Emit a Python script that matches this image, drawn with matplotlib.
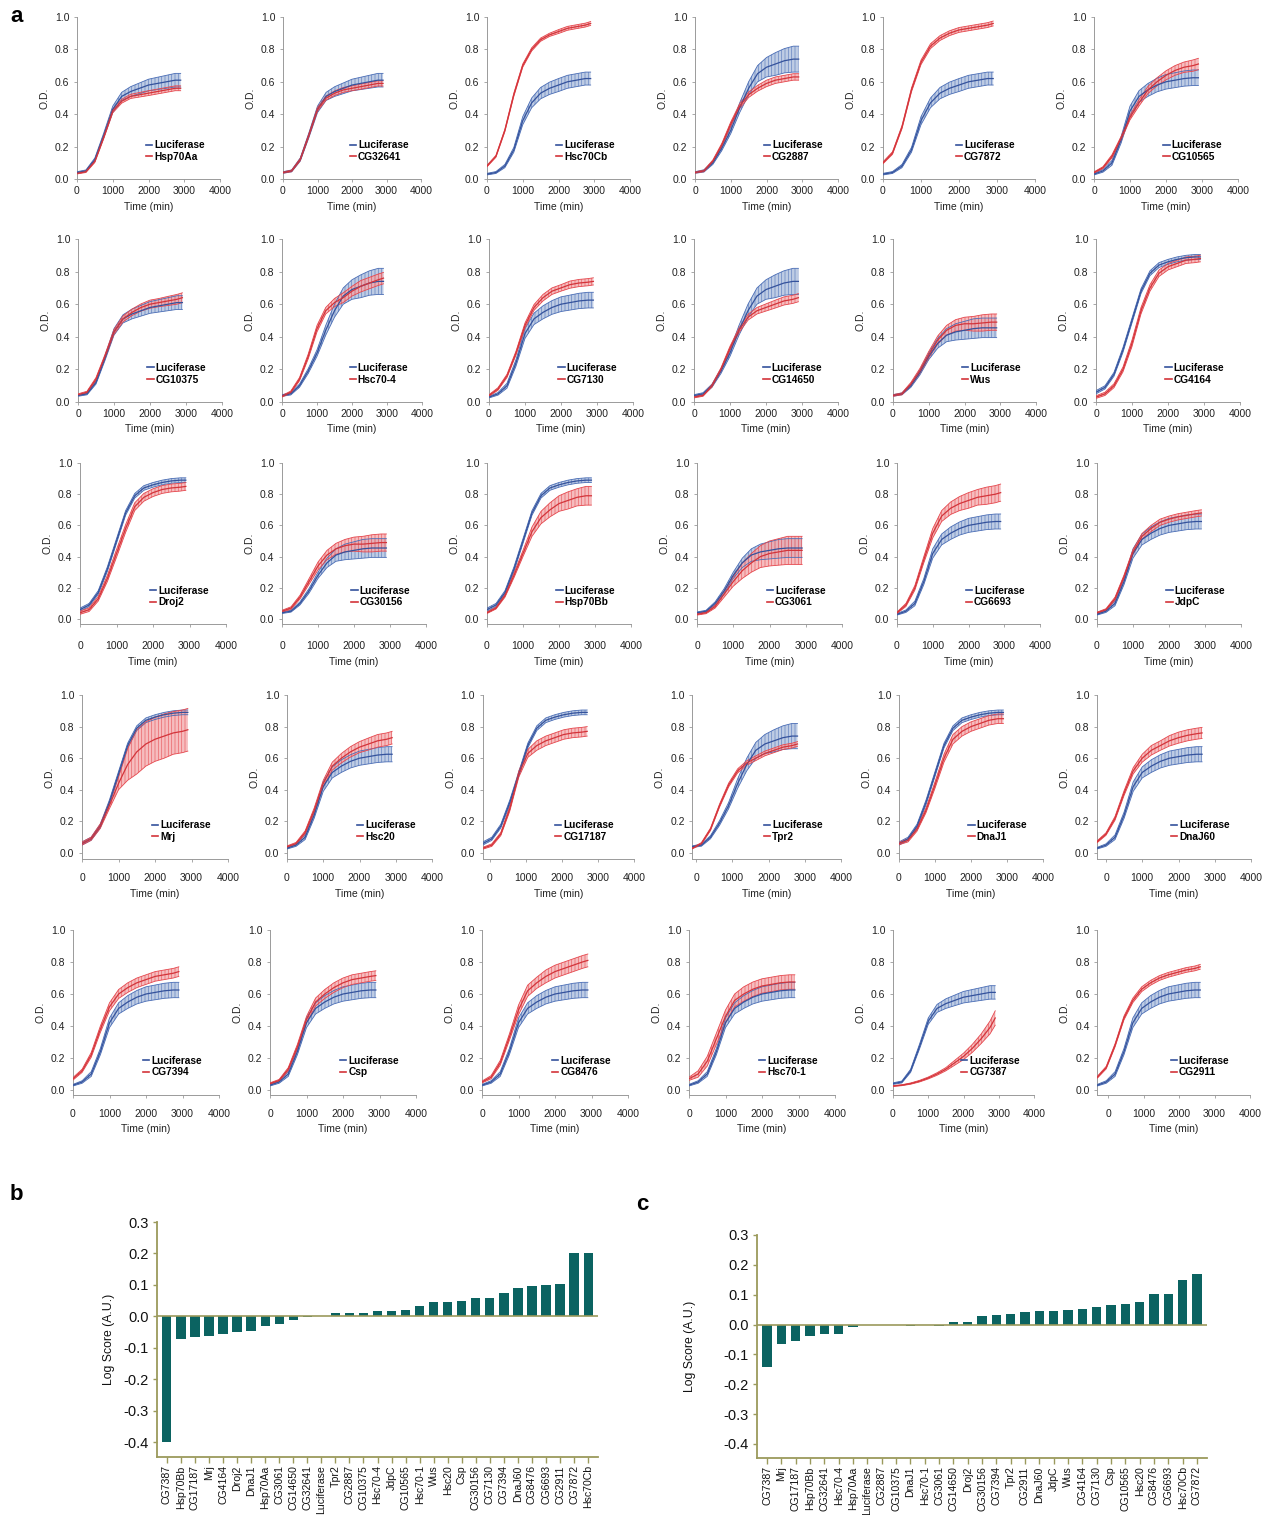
import matplotlib
matplotlib.use("Agg")
import numpy as np
import matplotlib.pyplot as plt

plt.rcParams['font.family'] = ['Liberation Sans', 'DejaVu Sans']
plt.rcParams['hatch.linewidth'] = 0.5

W, H = 1277, 1515

# sample times (min)
T = [0, 250, 500, 750, 1000, 1250, 1500, 1750, 2000, 2250, 2500, 2750, 2900]

# luciferase controls (one per plate)
luc_a = [0.04, 0.05, 0.12, 0.27, 0.43, 0.51, 0.54, 0.56, 0.58, 0.59, 0.60, 0.61, 0.61]
luc_a_sd = [0.005, 0.006, 0.01, 0.015, 0.02, 0.025, 0.03, 0.033, 0.036, 0.038, 0.04, 0.042, 0.042]
luc_a2 = [0.03, 0.05, 0.10, 0.24, 0.42, 0.51, 0.55, 0.58, 0.60, 0.61, 0.62, 0.625, 0.625]
luc_a2_sd = [0.005, 0.008, 0.015, 0.02, 0.03, 0.035, 0.04, 0.042, 0.045, 0.046, 0.047, 0.048, 0.048]
luc_e = [0.03, 0.04, 0.08, 0.18, 0.36, 0.47, 0.53, 0.56, 0.58, 0.60, 0.61, 0.62, 0.62]
luc_e_sd = [0.005, 0.006, 0.01, 0.015, 0.025, 0.03, 0.035, 0.038, 0.04, 0.04, 0.04, 0.04, 0.04]
luc_b = [0.04, 0.05, 0.10, 0.19, 0.30, 0.44, 0.56, 0.65, 0.69, 0.71, 0.73, 0.74, 0.74]
luc_b_sd = [0.005, 0.007, 0.01, 0.015, 0.02, 0.03, 0.04, 0.05, 0.06, 0.07, 0.075, 0.08, 0.08]
luc_c = [0.06, 0.09, 0.17, 0.32, 0.50, 0.68, 0.79, 0.84, 0.86, 0.875, 0.885, 0.89, 0.89]
luc_c_sd = [0.01, 0.01, 0.012, 0.015, 0.015, 0.015, 0.015, 0.015, 0.015, 0.015, 0.015, 0.015, 0.015]
luc_d = [0.04, 0.05, 0.10, 0.18, 0.28, 0.36, 0.41, 0.43, 0.44, 0.45, 0.455, 0.455, 0.455]
luc_d_sd = [0.005, 0.006, 0.01, 0.015, 0.02, 0.03, 0.04, 0.05, 0.055, 0.06, 0.06, 0.06, 0.06]

# chaperone curves
hsp70aa = [0.035, 0.045, 0.11, 0.26, 0.42, 0.48, 0.51, 0.52, 0.53, 0.54, 0.55, 0.56, 0.56]
hsp70aa_sd = [0.004, 0.005, 0.008, 0.01, 0.012, 0.012, 0.013, 0.014, 0.015, 0.015, 0.015, 0.015, 0.015]
cg32641 = [0.04, 0.05, 0.12, 0.27, 0.43, 0.50, 0.53, 0.55, 0.56, 0.57, 0.58, 0.59, 0.59]
cg32641_sd = [0.004, 0.005, 0.008, 0.01, 0.012, 0.013, 0.014, 0.015, 0.015, 0.016, 0.016, 0.016, 0.016]
hsc70cb = [0.08, 0.14, 0.30, 0.52, 0.70, 0.80, 0.86, 0.89, 0.91, 0.93, 0.94, 0.95, 0.96]
hsc70cb_sd = [0.005, 0.006, 0.008, 0.01, 0.01, 0.01, 0.01, 0.01, 0.012, 0.012, 0.012, 0.012, 0.012]
cg2887 = [0.04, 0.05, 0.11, 0.21, 0.34, 0.45, 0.52, 0.56, 0.59, 0.61, 0.62, 0.63, 0.63]
cg2887_sd = [0.004, 0.005, 0.008, 0.01, 0.012, 0.015, 0.017, 0.018, 0.02, 0.02, 0.02, 0.02, 0.02]
cg7872 = [0.10, 0.16, 0.32, 0.55, 0.72, 0.82, 0.87, 0.90, 0.92, 0.93, 0.94, 0.95, 0.96]
cg7872_sd = [0.006, 0.008, 0.01, 0.012, 0.014, 0.015, 0.015, 0.015, 0.015, 0.015, 0.015, 0.015, 0.015]
cg10565 = [0.04, 0.07, 0.14, 0.25, 0.38, 0.47, 0.55, 0.60, 0.64, 0.67, 0.69, 0.70, 0.71]
cg10565_sd = [0.004, 0.006, 0.01, 0.012, 0.015, 0.02, 0.022, 0.025, 0.028, 0.03, 0.032, 0.035, 0.035]
cg10375 = [0.045, 0.06, 0.14, 0.28, 0.43, 0.51, 0.55, 0.58, 0.60, 0.61, 0.62, 0.63, 0.64]
cg10375_sd = [0.005, 0.006, 0.01, 0.012, 0.015, 0.018, 0.02, 0.022, 0.025, 0.025, 0.028, 0.03, 0.03]
hsc70_4 = [0.035, 0.06, 0.14, 0.28, 0.45, 0.56, 0.61, 0.64, 0.68, 0.71, 0.73, 0.75, 0.76]
hsc70_4_sd = [0.005, 0.007, 0.01, 0.015, 0.02, 0.02, 0.025, 0.03, 0.03, 0.035, 0.035, 0.035, 0.035]
cg7130 = [0.04, 0.08, 0.16, 0.30, 0.47, 0.58, 0.64, 0.68, 0.70, 0.72, 0.73, 0.735, 0.74]
cg7130_sd = [0.005, 0.008, 0.01, 0.012, 0.015, 0.018, 0.02, 0.02, 0.02, 0.022, 0.022, 0.022, 0.022]
cg14650 = [0.03, 0.04, 0.10, 0.20, 0.33, 0.44, 0.52, 0.56, 0.58, 0.60, 0.62, 0.63, 0.64]
cg14650_sd = [0.005, 0.005, 0.008, 0.01, 0.012, 0.015, 0.018, 0.02, 0.022, 0.024, 0.025, 0.025, 0.025]
wus = [0.04, 0.05, 0.11, 0.19, 0.29, 0.38, 0.44, 0.47, 0.48, 0.48, 0.485, 0.49, 0.49]
wus_sd = [0.005, 0.006, 0.01, 0.015, 0.02, 0.025, 0.03, 0.035, 0.04, 0.045, 0.05, 0.05, 0.05]
cg4164 = [0.03, 0.05, 0.10, 0.20, 0.36, 0.56, 0.70, 0.79, 0.83, 0.85, 0.87, 0.875, 0.88]
cg4164_sd = [0.008, 0.01, 0.012, 0.015, 0.02, 0.02, 0.02, 0.02, 0.02, 0.02, 0.02, 0.02, 0.02]
droj2 = [0.04, 0.06, 0.13, 0.26, 0.42, 0.58, 0.72, 0.78, 0.81, 0.83, 0.84, 0.845, 0.85]
droj2_sd = [0.01, 0.012, 0.015, 0.02, 0.025, 0.025, 0.025, 0.025, 0.025, 0.025, 0.025, 0.025, 0.025]
cg30156 = [0.05, 0.07, 0.14, 0.24, 0.34, 0.41, 0.45, 0.47, 0.48, 0.48, 0.485, 0.49, 0.49]
cg30156_sd = [0.006, 0.008, 0.012, 0.018, 0.025, 0.03, 0.035, 0.04, 0.045, 0.05, 0.055, 0.055, 0.055]
hsp70bb = [0.04, 0.07, 0.15, 0.28, 0.42, 0.56, 0.65, 0.70, 0.74, 0.76, 0.78, 0.79, 0.79]
hsp70bb_sd = [0.005, 0.006, 0.01, 0.015, 0.02, 0.03, 0.04, 0.045, 0.05, 0.055, 0.055, 0.06, 0.06]
cg3061 = [0.03, 0.04, 0.08, 0.16, 0.24, 0.31, 0.36, 0.40, 0.42, 0.43, 0.44, 0.44, 0.44]
cg3061_sd = [0.005, 0.006, 0.01, 0.02, 0.03, 0.05, 0.06, 0.07, 0.08, 0.085, 0.09, 0.09, 0.09]
cg6693 = [0.04, 0.09, 0.20, 0.38, 0.55, 0.66, 0.71, 0.74, 0.76, 0.78, 0.79, 0.80, 0.81]
cg6693_sd = [0.005, 0.01, 0.015, 0.02, 0.03, 0.035, 0.04, 0.045, 0.05, 0.05, 0.055, 0.055, 0.055]
jdpc = [0.04, 0.06, 0.13, 0.27, 0.43, 0.53, 0.58, 0.62, 0.64, 0.655, 0.665, 0.675, 0.68]
jdpc_sd = [0.004, 0.006, 0.01, 0.012, 0.015, 0.018, 0.02, 0.02, 0.02, 0.02, 0.02, 0.02, 0.02]
mrj = [0.06, 0.09, 0.17, 0.30, 0.44, 0.56, 0.64, 0.69, 0.72, 0.74, 0.76, 0.77, 0.78]
mrj_sd = [0.01, 0.01, 0.015, 0.02, 0.04, 0.10, 0.14, 0.14, 0.14, 0.14, 0.135, 0.135, 0.135]
hsc20 = [0.04, 0.06, 0.13, 0.27, 0.44, 0.55, 0.60, 0.64, 0.67, 0.69, 0.71, 0.72, 0.73]
hsc20_sd = [0.005, 0.007, 0.01, 0.015, 0.02, 0.025, 0.03, 0.033, 0.035, 0.038, 0.04, 0.04, 0.04]
cg17187 = [0.03, 0.05, 0.12, 0.28, 0.50, 0.63, 0.68, 0.71, 0.73, 0.75, 0.76, 0.765, 0.77]
cg17187_sd = [0.006, 0.008, 0.01, 0.015, 0.02, 0.025, 0.03, 0.03, 0.03, 0.03, 0.03, 0.03, 0.03]
tpr2 = [0.03, 0.06, 0.15, 0.30, 0.43, 0.52, 0.57, 0.60, 0.63, 0.65, 0.67, 0.68, 0.69]
tpr2_sd = [0.004, 0.006, 0.008, 0.01, 0.012, 0.013, 0.014, 0.015, 0.015, 0.015, 0.015, 0.015, 0.015]
dnaj1 = [0.06, 0.08, 0.15, 0.27, 0.43, 0.60, 0.72, 0.77, 0.80, 0.82, 0.84, 0.85, 0.85]
dnaj1_sd = [0.008, 0.01, 0.012, 0.015, 0.02, 0.025, 0.03, 0.03, 0.03, 0.03, 0.03, 0.03, 0.03]
dnaj60 = [0.07, 0.12, 0.22, 0.38, 0.52, 0.60, 0.65, 0.68, 0.71, 0.73, 0.745, 0.755, 0.76]
dnaj60_sd = [0.006, 0.008, 0.012, 0.015, 0.02, 0.025, 0.03, 0.03, 0.033, 0.035, 0.035, 0.035, 0.035]
cg7394 = [0.07, 0.12, 0.22, 0.38, 0.52, 0.60, 0.64, 0.67, 0.69, 0.71, 0.72, 0.73, 0.74]
cg7394_sd = [0.008, 0.01, 0.015, 0.02, 0.025, 0.028, 0.03, 0.03, 0.03, 0.03, 0.03, 0.03, 0.03]
csp = [0.04, 0.06, 0.13, 0.27, 0.44, 0.55, 0.60, 0.64, 0.67, 0.69, 0.70, 0.71, 0.715]
csp_sd = [0.005, 0.006, 0.01, 0.015, 0.02, 0.025, 0.028, 0.03, 0.03, 0.03, 0.03, 0.03, 0.03]
cg8476 = [0.05, 0.08, 0.17, 0.33, 0.50, 0.62, 0.67, 0.71, 0.74, 0.76, 0.78, 0.80, 0.81]
cg8476_sd = [0.006, 0.01, 0.015, 0.02, 0.03, 0.035, 0.035, 0.04, 0.04, 0.04, 0.04, 0.04, 0.04]
hsc70_1 = [0.07, 0.10, 0.18, 0.32, 0.46, 0.56, 0.60, 0.63, 0.65, 0.66, 0.67, 0.675, 0.675]
hsc70_1_sd = [0.01, 0.02, 0.03, 0.035, 0.04, 0.04, 0.045, 0.045, 0.045, 0.045, 0.045, 0.045, 0.045]
cg7387 = [0.025, 0.03, 0.04, 0.055, 0.075, 0.10, 0.13, 0.17, 0.21, 0.26, 0.32, 0.39, 0.45]
cg7387_sd = [0.003, 0.003, 0.004, 0.005, 0.006, 0.008, 0.01, 0.015, 0.02, 0.025, 0.03, 0.04, 0.045]
cg2911 = [0.08, 0.14, 0.28, 0.45, 0.56, 0.63, 0.67, 0.70, 0.72, 0.735, 0.75, 0.76, 0.77]
cg2911_sd = [0.006, 0.008, 0.01, 0.012, 0.014, 0.015, 0.015, 0.015, 0.015, 0.015, 0.015, 0.015, 0.015]

# grid order (row by row)
panels = [
    ("Hsp70Aa", luc_a, luc_a_sd, hsp70aa, hsp70aa_sd),
    ("CG32641", luc_a, luc_a_sd, cg32641, cg32641_sd),
    ("Hsc70Cb", luc_e, luc_e_sd, hsc70cb, hsc70cb_sd),
    ("CG2887", luc_b, luc_b_sd, cg2887, cg2887_sd),
    ("CG7872", luc_e, luc_e_sd, cg7872, cg7872_sd),
    ("CG10565", luc_a2, luc_a2_sd, cg10565, cg10565_sd),
    ("CG10375", luc_a, luc_a_sd, cg10375, cg10375_sd),
    ("Hsc70-4", luc_b, luc_b_sd, hsc70_4, hsc70_4_sd),
    ("CG7130", luc_a2, luc_a2_sd, cg7130, cg7130_sd),
    ("CG14650", luc_b, luc_b_sd, cg14650, cg14650_sd),
    ("Wus", luc_d, luc_d_sd, wus, wus_sd),
    ("CG4164", luc_c, luc_c_sd, cg4164, cg4164_sd),
    ("Droj2", luc_c, luc_c_sd, droj2, droj2_sd),
    ("CG30156", luc_d, luc_d_sd, cg30156, cg30156_sd),
    ("Hsp70Bb", luc_c, luc_c_sd, hsp70bb, hsp70bb_sd),
    ("CG3061", luc_d, luc_d_sd, cg3061, cg3061_sd),
    ("CG6693", luc_a2, luc_a2_sd, cg6693, cg6693_sd),
    ("JdpC", luc_a2, luc_a2_sd, jdpc, jdpc_sd),
    ("Mrj", luc_c, luc_c_sd, mrj, mrj_sd),
    ("Hsc20", luc_a2, luc_a2_sd, hsc20, hsc20_sd),
    ("CG17187", luc_c, luc_c_sd, cg17187, cg17187_sd),
    ("Tpr2", luc_b, luc_b_sd, tpr2, tpr2_sd),
    ("DnaJ1", luc_c, luc_c_sd, dnaj1, dnaj1_sd),
    ("DnaJ60", luc_a2, luc_a2_sd, dnaj60, dnaj60_sd),
    ("CG7394", luc_a2, luc_a2_sd, cg7394, cg7394_sd),
    ("Csp", luc_a2, luc_a2_sd, csp, csp_sd),
    ("CG8476", luc_a2, luc_a2_sd, cg8476, cg8476_sd),
    ("Hsc70-1", luc_a2, luc_a2_sd, hsc70_1, hsc70_1_sd),
    ("CG7387", luc_a, luc_a_sd, cg7387, cg7387_sd),
    ("CG2911", luc_a2, luc_a2_sd, cg2911, cg2911_sd),
]
# time axis start per panel (some panels begin before 0)
x_start = [0] * 30
x_start[20] = -200
x_start[21] = -100
x_start[23] = -250
x_start[29] = -300

# bar charts
b_labels = ["CG7387", "Hsp70Bb", "CG17187", "Mrj", "CG4164", "Droj2", "DnaJ1", "Hsp70Aa",
            "CG3061", "CG14650", "CG32641", "Luciferase", "Tpr2", "CG2887", "CG10375",
            "Hsc70-4", "JdpC", "CG10565", "Hsc70-1", "Wus", "Hsc20", "Csp", "CG30156",
            "CG7130", "CG7394", "DnaJ60", "CG8476", "CG6693", "CG2911", "CG7872", "Hsc70Cb"]
b_values = [-0.398, -0.071, -0.066, -0.063, -0.056, -0.050, -0.045, -0.030, -0.025, -0.012,
            -0.001, 0.0, 0.012, 0.010, 0.012, 0.018, 0.018, 0.021, 0.033, 0.046, 0.047,
            0.049, 0.059, 0.060, 0.074, 0.089, 0.095, 0.100, 0.102, 0.200, 0.203]
c_labels = ["CG7387", "Mrj", "CG17187", "Hsp70Bb", "CG32641", "Hsc70-4", "Hsp70Aa",
            "Luciferase", "CG2887", "CG10375", "DnaJ1", "Hsc70-1", "CG3061", "CG14650",
            "Droj2", "CG30156", "CG7394", "Tpr2", "CG2911", "DnaJ60", "JdpC", "Wus",
            "CG4164", "CG7130", "Csp", "CG10565", "Hsc20", "CG8476", "CG6693", "Hsc70Cb",
            "CG7872"]
c_values = [-0.142, -0.064, -0.056, -0.039, -0.032, -0.032, -0.009, 0.0, 0.0, 0.0,
            -0.005, -0.003, -0.004, 0.007, 0.008, 0.027, 0.031, 0.037, 0.041, 0.046,
            0.046, 0.049, 0.053, 0.059, 0.066, 0.069, 0.075, 0.101, 0.103, 0.149, 0.171]

# ---------------- layout (pixels) ----------------
row_y = [(17, 179), (239, 402), (463, 619), (695, 853), (930, 1090)]
col_x = [
    [(77, 220), (283, 421), (487, 630), (695, 838), (883, 1035), (1094, 1238)],
    [(78, 222), (282, 422), (489, 633), (694, 838), (893, 1036), (1096, 1240)],
    [(80, 226), (282, 426), (487, 631), (697, 842), (897, 1040), (1097, 1241)],
    [(82, 228), (287, 432), (490, 634), (696, 841), (899, 1043), (1106, 1251)],
    [(73, 219), (270, 416), (482, 628), (689, 835), (893, 1034), (1108, 1250)],
]
row_ybot = [0.0, 0.0, -0.035, -0.04, -0.03]
row_pad = [3, 3, 10, 8, 8]

BLUE, BLUE_BAND, BLUE_DARK = '#4a6db5', '#a8bbdc', '#34529c'
RED, RED_BAND, RED_DARK = '#e5474d', '#f3a7aa', '#d3343a'
SPINE = '#9a9a9a'
TEAL = '#0b6361'
OLIVE = '#9b9a5c'

fig = plt.figure(figsize=(W / 100, H / 100), dpi=100)


def draw_band(ax, t, m, s, c, band, dark, label):
    m = np.array(m)
    s = np.array(s)
    ax.fill_between(t, m - s, m + s, facecolor=band, edgecolor=c, hatch='|||||',
                    linewidth=0, alpha=0.75, zorder=2)
    ax.plot(t, m + s, color=c, lw=0.6, zorder=3)
    ax.plot(t, m - s, color=c, lw=0.6, zorder=3)
    ax.plot(t, m, color=dark, lw=0.9, zorder=4, label=label)


for i, (name, lm, ls, gm, gs) in enumerate(panels):
    r, c = divmod(i, 6)
    ytop, ybot = row_y[r]
    x0, x1 = col_x[r][c]
    xs = x_start[i]
    yb = row_ybot[r]
    ppu_x = (x1 - x0) / 4000.0
    ppu_y = (ybot - ytop) / 1.0
    left = x0 + xs * ppu_x
    bottom_px = ybot - yb * ppu_y
    ax = fig.add_axes([left / W, 1 - bottom_px / H, (x1 - left) / W, (bottom_px - ytop) / H])
    t = np.array(T) + xs
    draw_band(ax, t, lm, ls, BLUE, BLUE_BAND, BLUE_DARK, 'Luciferase')
    draw_band(ax, t, gm, gs, RED, RED_BAND, RED_DARK, name)
    ax.set_xlim(xs, 4000)
    ax.set_ylim(yb, 1.0)
    ax.set_xticks([0, 1000, 2000, 3000, 4000])
    ax.set_yticks([0.0, 0.2, 0.4, 0.6, 0.8, 1.0])
    ax.set_yticklabels(['0.0', '0.2', '0.4', '0.6', '0.8', '1.0'])
    for sp in ['top', 'right']:
        ax.spines[sp].set_visible(False)
    for sp in ['left', 'bottom']:
        ax.spines[sp].set_color(SPINE)
        ax.spines[sp].set_linewidth(0.7)
    ax.tick_params(axis='both', labelsize=7.5, colors=SPINE, labelcolor='#222222',
                   length=2, width=0.6)
    ax.tick_params(axis='x', pad=row_pad[r])
    ax.set_xlabel('Time (min)', fontsize=7.5, color='#222222', labelpad=4)
    ax.set_ylabel('O.D.', fontsize=7.5, color='#222222', labelpad=4)
    leg = ax.legend(loc='lower left', bbox_to_anchor=(0.44, 0.07), frameon=False,
                    handlelength=0.6, handletextpad=0.2, labelspacing=0.15,
                    borderpad=0.1, prop={'weight': 'bold', 'size': 7.3})
    for line in leg.get_lines():
        line.set_linewidth(1.2)
    ax.set_facecolor('none')


def bar_panel(rect_px, labels, values, ylab_x):
    lx, ty, rx, by = rect_px
    ax = fig.add_axes([lx / W, 1 - by / H, (rx - lx) / W, (by - ty) / H])
    x = np.arange(len(values))
    ax.bar(x, values, width=0.66, color=TEAL, zorder=2)
    ax.axhline(0, color=OLIVE, lw=1.2, zorder=3)
    ax.set_xlim(-0.7, len(values) - 0.3)
    ax.set_ylim(-0.447, 0.3)
    ax.set_yticks([0.3, 0.2, 0.1, 0.0, -0.1, -0.2, -0.3, -0.4])
    ax.set_yticklabels(['0.3', '0.2', '0.1', '0.0', '-0.1', '-0.2', '-0.3', '-0.4'])
    ax.set_xticks(x)
    ax.set_xticklabels(labels, rotation=90, fontsize=7.6)
    for sp in ['top', 'right']:
        ax.spines[sp].set_visible(False)
    for sp in ['left', 'bottom']:
        ax.spines[sp].set_color(OLIVE)
        ax.spines[sp].set_linewidth(1.3)
    ax.tick_params(axis='y', labelsize=10.5, colors=OLIVE, labelcolor='#111111',
                   length=3, width=1.0, pad=3)
    ax.tick_params(axis='x', colors=OLIVE, labelcolor='#111111', length=4, width=1.0, pad=2)
    ax.set_ylabel('Log Score (A.U.)', fontsize=8.8, color='#111111')
    ax.yaxis.set_label_coords(ylab_x, 0.5)
    return ax


bar_panel((157, 1222, 598, 1457), b_labels, b_values, -0.095)
bar_panel((757, 1235, 1207, 1458), c_labels, c_values, -0.135)

fig.text(10 / W, 1 - 17 / H, 'a', fontsize=16, fontweight='bold', va='center')
fig.text(10 / W, 1 - 1195 / H, 'b', fontsize=16, fontweight='bold', va='center')
fig.text(636 / W, 1 - 1205 / H, 'c', fontsize=16, fontweight='bold', va='center')

fig.savefig('out.png', dpi=100)
